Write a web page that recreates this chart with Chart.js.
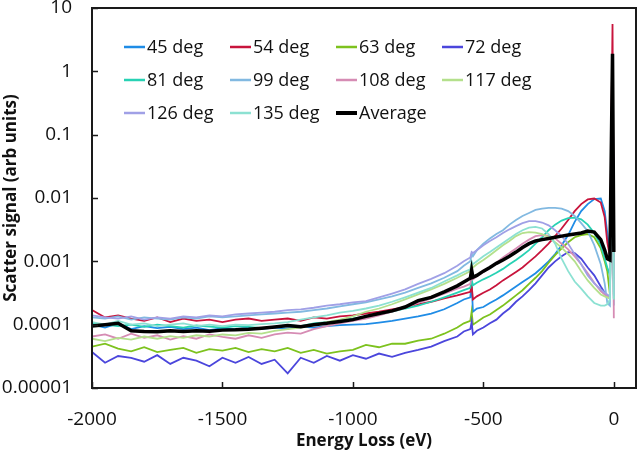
<!DOCTYPE html>
<html>
<head>
<meta charset="utf-8">
<script src="https://cdn.jsdelivr.net/npm/chart.js@4.4.1/dist/chart.umd.min.js"></script>
<style>
  body { margin: 0; background: #fff; }
  #wrap { width: 640px; height: 454px; }
</style>
</head>
<body>
<div id="wrap"><canvas id="myChart"></canvas></div>
<script>
// energy loss grid (eV)
const energy = [-2000, -1950, -1900, -1850, -1800, -1750, -1700, -1650, -1600, -1550,
    -1500, -1450, -1400, -1350, -1300, -1250, -1200, -1150, -1100, -1050,
    -1000, -950, -900, -850, -800, -750, -700, -650, -600,
    -575, -550, -545, -540, -525, -500, -475, -450, -425, -400, -375, -350, -325,
    -300, -275, -250, -225, -200, -175, -150, -125, -100, -75, -50, -35, -25, -15, -5, 0];

// scatter signal (arb units)
const deg45 = [1.0e-4, 0.9e-4, 1.05e-4, 0.85e-4, 0.95e-4, 0.88e-4, 0.92e-4, 0.85e-4, 0.9e-4, 0.82e-4,
    0.88e-4, 0.85e-4, 0.9e-4, 0.86e-4, 0.9e-4, 0.87e-4, 0.93e-4, 0.9e-4, 0.95e-4, 0.98e-4,
    1.0e-4, 1.02e-4, 1.08e-4, 1.15e-4, 1.25e-4, 1.35e-4, 1.5e-4, 1.75e-4, 2.2e-4,
    2.5e-4, 2.7e-4, 4.6e-4, 1.6e-4, 1.8e-4, 1.9e-4, 2.2e-4, 2.5e-4, 2.9e-4, 3.4e-4, 4.0e-4, 4.7e-4, 5.5e-4,
    6.5e-4, 8.0e-4, 10e-4, 13e-4, 18e-4, 26e-4, 42e-4, 62e-4, 80e-4, 96e-4, 98e-4, 62e-4, 28e-4, 12e-4, 15000e-4, 13e-4];
const deg54 = [1.7e-4, 1.3e-4, 1.4e-4, 1.25e-4, 1.15e-4, 1.3e-4, 1.1e-4, 1.25e-4, 1.15e-4, 1.2e-4,
    1.1e-4, 1.2e-4, 1.25e-4, 1.15e-4, 1.2e-4, 1.25e-4, 1.15e-4, 1.3e-4, 1.25e-4, 1.35e-4,
    1.4e-4, 1.5e-4, 1.6e-4, 1.75e-4, 1.9e-4, 2.1e-4, 2.3e-4, 2.6e-4, 2.9e-4,
    3.1e-4, 3.3e-4, 4.2e-4, 2.5e-4, 2.8e-4, 3.2e-4, 3.6e-4, 4.2e-4, 5.0e-4, 5.8e-4, 6.8e-4, 8.0e-4, 9.8e-4,
    12e-4, 15e-4, 19e-4, 25e-4, 33e-4, 45e-4, 62e-4, 80e-4, 95e-4, 98e-4, 85e-4, 50e-4, 20e-4, 12e-4, 56000e-4, 12e-4];
const deg63 = [0.45e-4, 0.5e-4, 0.42e-4, 0.38e-4, 0.44e-4, 0.37e-4, 0.4e-4, 0.43e-4, 0.36e-4, 0.41e-4,
    0.39e-4, 0.43e-4, 0.37e-4, 0.41e-4, 0.38e-4, 0.43e-4, 0.36e-4, 0.4e-4, 0.35e-4, 0.38e-4,
    0.4e-4, 0.48e-4, 0.44e-4, 0.5e-4, 0.5e-4, 0.56e-4, 0.6e-4, 0.72e-4, 0.9e-4,
    1.05e-4, 1.15e-4, 1.6e-4, 1.0e-4, 1.1e-4, 1.3e-4, 1.45e-4, 1.7e-4, 2.0e-4, 2.4e-4, 2.9e-4, 3.5e-4, 4.4e-4,
    5.5e-4, 7.0e-4, 9.5e-4, 12.5e-4, 16e-4, 20e-4, 24e-4, 26e-4, 27e-4, 24e-4, 16e-4, 10e-4, 7e-4, 3e-4, 10000e-4, 3e-4];
const deg72 = [0.37e-4, 0.25e-4, 0.32e-4, 0.3e-4, 0.26e-4, 0.33e-4, 0.24e-4, 0.3e-4, 0.27e-4, 0.22e-4,
    0.3e-4, 0.25e-4, 0.31e-4, 0.24e-4, 0.28e-4, 0.17e-4, 0.3e-4, 0.25e-4, 0.32e-4, 0.27e-4,
    0.33e-4, 0.29e-4, 0.35e-4, 0.31e-4, 0.36e-4, 0.4e-4, 0.45e-4, 0.55e-4, 0.65e-4,
    0.78e-4, 0.85e-4, 1.1e-4, 0.7e-4, 0.8e-4, 0.9e-4, 1.05e-4, 1.2e-4, 1.5e-4, 1.8e-4, 2.3e-4, 2.8e-4, 3.5e-4,
    4.5e-4, 6.0e-4, 8.0e-4, 10e-4, 12e-4, 14e-4, 13.5e-4, 11e-4, 8e-4, 6e-4, 4e-4, 3.2e-4, 2.8e-4, 2.6e-4, 8000e-4, 2.6e-4];
const deg81 = [1.05e-4, 1.0e-4, 0.95e-4, 1.0e-4, 0.92e-4, 1.0e-4, 0.95e-4, 0.9e-4, 0.97e-4, 0.93e-4,
    0.9e-4, 0.95e-4, 0.92e-4, 0.88e-4, 0.93e-4, 0.98e-4, 0.95e-4, 1.05e-4, 1.1e-4, 1.15e-4,
    1.25e-4, 1.35e-4, 1.45e-4, 1.6e-4, 1.8e-4, 2.0e-4, 2.3e-4, 2.7e-4, 3.2e-4,
    3.5e-4, 3.8e-4, 5.2e-4, 4.2e-4, 4.6e-4, 5.2e-4, 5.8e-4, 6.6e-4, 7.6e-4, 9e-4, 10.5e-4, 12.5e-4, 15e-4,
    19e-4, 24e-4, 31e-4, 38e-4, 44e-4, 48e-4, 49e-4, 46e-4, 38e-4, 28e-4, 18e-4, 11e-4, 8e-4, 6e-4, 12000e-4, 6e-4];
const deg99 = [1.3e-4, 1.25e-4, 1.35e-4, 1.2e-4, 1.3e-4, 1.25e-4, 1.2e-4, 1.3e-4, 1.25e-4, 1.35e-4,
    1.3e-4, 1.35e-4, 1.4e-4, 1.45e-4, 1.5e-4, 1.55e-4, 1.6e-4, 1.7e-4, 1.8e-4, 1.95e-4,
    2.1e-4, 2.25e-4, 2.5e-4, 2.8e-4, 3.2e-4, 3.8e-4, 4.5e-4, 5.5e-4, 7e-4,
    8.5e-4, 10e-4, 13e-4, 12e-4, 15e-4, 19e-4, 23e-4, 27e-4, 31e-4, 38e-4, 45e-4, 52e-4, 58e-4,
    65e-4, 68e-4, 70e-4, 70e-4, 68e-4, 62e-4, 52e-4, 40e-4, 30e-4, 18e-4, 9e-4, 4.5e-4, 2.2e-4, 2.0e-4, 10000e-4, 2.0e-4];
const deg108 = [0.65e-4, 0.7e-4, 0.6e-4, 0.72e-4, 0.62e-4, 0.68e-4, 0.58e-4, 0.66e-4, 0.6e-4, 0.7e-4,
    0.64e-4, 0.6e-4, 0.68e-4, 0.62e-4, 0.7e-4, 0.75e-4, 0.72e-4, 0.85e-4, 0.95e-4, 1.05e-4,
    1.15e-4, 1.25e-4, 1.4e-4, 1.6e-4, 1.85e-4, 2.2e-4, 2.6e-4, 3.1e-4, 3.7e-4,
    4.0e-4, 4.4e-4, 5.8e-4, 5.2e-4, 5.8e-4, 6.8e-4, 8e-4, 9.5e-4, 11.5e-4, 13.5e-4, 16e-4, 19e-4, 22e-4,
    25e-4, 26e-4, 25.5e-4, 23e-4, 19e-4, 15.5e-4, 12e-4, 9e-4, 6.5e-4, 4.6e-4, 3.4e-4, 3.0e-4, 2.8e-4, 2.7e-4, 10000e-4, 1.26e-4];
const deg117 = [0.6e-4, 0.55e-4, 0.62e-4, 0.58e-4, 0.65e-4, 0.6e-4, 0.66e-4, 0.62e-4, 0.68e-4, 0.65e-4,
    0.7e-4, 0.68e-4, 0.74e-4, 0.72e-4, 0.8e-4, 0.85e-4, 0.9e-4, 0.98e-4, 1.1e-4, 1.2e-4,
    1.35e-4, 1.6e-4, 1.8e-4, 2.1e-4, 2.5e-4, 3.0e-4, 3.6e-4, 4.4e-4, 5.5e-4,
    6.2e-4, 7e-4, 9e-4, 8e-4, 9e-4, 10.5e-4, 12.5e-4, 15e-4, 18e-4, 21e-4, 25e-4, 28e-4, 29e-4,
    28.5e-4, 27e-4, 24e-4, 20e-4, 16.5e-4, 13e-4, 10e-4, 7e-4, 5e-4, 3.8e-4, 3.0e-4, 2.8e-4, 2.7e-4, 2.6e-4, 10000e-4, 2.6e-4];
const deg126 = [1.4e-4, 1.3e-4, 1.25e-4, 1.35e-4, 1.2e-4, 1.3e-4, 1.25e-4, 1.35e-4, 1.3e-4, 1.4e-4,
    1.35e-4, 1.45e-4, 1.5e-4, 1.55e-4, 1.6e-4, 1.7e-4, 1.75e-4, 1.85e-4, 2.0e-4, 2.1e-4,
    2.25e-4, 2.35e-4, 2.7e-4, 3.1e-4, 3.6e-4, 4.4e-4, 5.3e-4, 6.5e-4, 8.5e-4,
    10e-4, 11.5e-4, 14e-4, 13.5e-4, 15e-4, 18e-4, 21e-4, 24e-4, 28e-4, 32e-4, 36e-4, 40e-4, 43e-4,
    43e-4, 41e-4, 37e-4, 31e-4, 25e-4, 19e-4, 13e-4, 9e-4, 6e-4, 4.5e-4, 3.6e-4, 3.2e-4, 3.0e-4, 2.8e-4, 10000e-4, 2.8e-4];
const deg135 = [1.1e-4, 1.0e-4, 1.15e-4, 1.0e-4, 1.05e-4, 0.95e-4, 1.0e-4, 1.05e-4, 0.95e-4, 1.0e-4,
    0.95e-4, 1.0e-4, 0.98e-4, 1.02e-4, 1.05e-4, 1.1e-4, 1.2e-4, 1.3e-4, 1.4e-4, 1.55e-4,
    1.65e-4, 1.8e-4, 2.0e-4, 2.3e-4, 2.7e-4, 3.2e-4, 3.8e-4, 4.8e-4, 6.0e-4,
    6.8e-4, 7.5e-4, 10e-4, 9e-4, 10e-4, 12e-4, 14e-4, 16.5e-4, 19.5e-4, 23e-4, 27e-4, 31e-4, 34e-4,
    35e-4, 33e-4, 27e-4, 19e-4, 11e-4, 7e-4, 4.8e-4, 3.7e-4, 2.8e-4, 2.2e-4, 2.0e-4, 2.0e-4, 2.1e-4, 2.5e-4, 10000e-4, 2.5e-4];
const average = [0.95e-4, 1.0e-4, 1.05e-4, 0.8e-4, 0.78e-4, 0.77e-4, 0.8e-4, 0.78e-4, 0.8e-4, 0.79e-4,
    0.82e-4, 0.83e-4, 0.85e-4, 0.88e-4, 0.92e-4, 0.97e-4, 0.93e-4, 1.0e-4, 1.05e-4, 1.12e-4,
    1.2e-4, 1.35e-4, 1.5e-4, 1.65e-4, 1.9e-4, 2.4e-4, 2.7e-4, 3.3e-4, 4.1e-4,
    4.7e-4, 5.4e-4, 7.3e-4, 5.6e-4, 6.0e-4, 7.0e-4, 8.0e-4, 9.3e-4, 10.5e-4, 12e-4, 14e-4, 16.5e-4, 19e-4,
    21e-4, 22e-4, 23e-4, 24e-4, 25e-4, 26e-4, 27e-4, 28e-4, 30e-4, 29e-4, 22e-4, 15e-4, 11e-4, 10.5e-4, 19000e-4, 14e-4];

const seriesLabels = ['45 deg', '54 deg', '63 deg', '72 deg', '81 deg', '99 deg', '108 deg', '117 deg', '126 deg', '135 deg', 'Average'];
const seriesData = [deg45, deg54, deg63, deg72, deg81, deg99, deg108, deg117, deg126, deg135, average];
const seriesColors = ['#1f8ce6', '#c8143c', '#7dc21e', '#4b46dc', '#28d2b4', '#82b9e1', '#d68cb4', '#b4e08c', '#a0a0e6', '#8ce1d2', '#000000'];

const xTicks = [-2000, -1500, -1000, -500, 0];
const yTicks = [0.00001, 0.0001, 0.001, 0.01, 0.1, 1, 10];
const yTickLabels = ['0.00001', '0.0001', '0.001', '0.01', '0.1', '1', '10'];

const FONT = "'Open Sans', sans-serif";

const datasets = seriesData.map((vals, i) => ({
    label: seriesLabels[i],
    data: energy.map((e, j) => ({ x: e, y: vals[j] })),
    borderColor: seriesColors[i],
    backgroundColor: seriesColors[i],
    borderWidth: i === seriesData.length - 1 ? 3.5 : 1.8,
    pointRadius: 0,
    tension: 0,
    fill: false,
    order: seriesData.length - 1 - i,
}));

// frame, inward tick marks and the in-plot legend
const framePlugin = {
    id: 'frame',
    afterDraw(chart) {
        const { ctx, chartArea: a, scales } = chart;
        ctx.save();
        ctx.strokeStyle = '#1a1a1a';
        ctx.lineWidth = 1.5;
        ctx.beginPath();
        yTicks.forEach(v => {
            const py = Math.round(scales.y.getPixelForValue(v)) + 0.5;
            ctx.moveTo(a.left, py);
            ctx.lineTo(a.left + 6, py);
        });
        xTicks.forEach(v => {
            const px = Math.round(scales.x.getPixelForValue(v)) + 0.5;
            ctx.moveTo(px, a.bottom);
            ctx.lineTo(px, a.bottom - 6);
        });
        ctx.stroke();
        ctx.lineWidth = 2;
        ctx.strokeRect(a.left, a.top, a.right - a.left, a.bottom - a.top);

        ctx.font = '18px ' + FONT;
        ctx.textBaseline = 'middle';
        ctx.textAlign = 'left';
        seriesLabels.forEach((label, i) => {
            const x = a.left + 32 + (i % 4) * 106;
            const y = a.top + 39 + Math.floor(i / 4) * 33;
            ctx.strokeStyle = seriesColors[i];
            ctx.lineWidth = i === seriesLabels.length - 1 ? 4 : 2.5;
            ctx.beginPath();
            ctx.moveTo(x, y);
            ctx.lineTo(x + 21, y);
            ctx.stroke();
            ctx.fillStyle = '#111';
            ctx.fillText(label, x + 23, y + 1);
        });
        ctx.restore();
    }
};

const ctx = document.getElementById('myChart').getContext('2d');
const chart = new Chart(ctx, {
    type: 'line',
    data: { datasets: datasets },
    options: {
        responsive: true,
        maintainAspectRatio: false,
        animation: false,
        layout: { padding: { top: 8, right: 4, left: 0, bottom: 0 } },
        plugins: {
            legend: { display: false },
            tooltip: { enabled: false },
        },
        scales: {
            x: {
                type: 'linear',
                min: -2000,
                max: 85,
                afterBuildTicks: scale => { scale.ticks = xTicks.map(v => ({ value: v })); },
                afterFit: scale => { scale.height = 66; },
                // tick marks are drawn by the plugin; tickLength only spaces the labels
                grid: { display: false, drawTicks: true, tickLength: 20 },
                border: { display: false },
                ticks: {
                    padding: 0,
                    color: '#111',
                    font: { family: FONT, size: 19 },
                    callback: value => String(value),
                },
                title: {
                    display: true,
                    text: 'Energy Loss (eV)',
                    color: '#111',
                    font: { family: FONT, size: 17, weight: 'bold' },
                    padding: { top: 0, bottom: 3 },
                },
            },
            y: {
                type: 'logarithmic',
                min: 0.00001,
                max: 10,
                afterBuildTicks: scale => { scale.ticks = yTicks.map(v => ({ value: v })); },
                afterFit: scale => { scale.width = 92; },
                grid: { display: false, drawTicks: true, tickLength: 20 },
                border: { display: false },
                ticks: {
                    padding: 0,
                    color: '#111',
                    font: { family: FONT, size: 19, lineHeight: 0.8 },
                    callback: (value, index) => yTickLabels[index],
                },
                title: {
                    display: true,
                    text: 'Scatter signal (arb units)',
                    color: '#111',
                    font: { family: FONT, size: 17, weight: 'bold' },
                    padding: { top: 1, bottom: 0 },
                },
            },
        },
    },
    plugins: [framePlugin],
});
</script>
</body>
</html>
